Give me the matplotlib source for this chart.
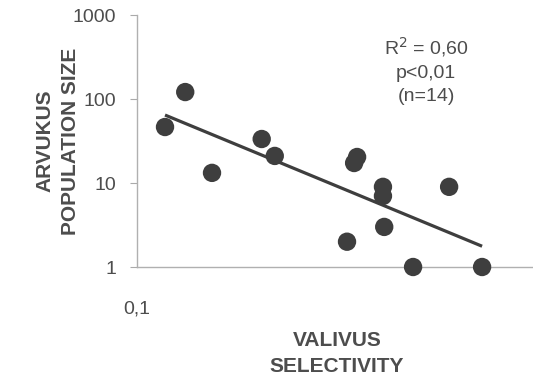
import numpy as np
import matplotlib
matplotlib.use("Agg")
import matplotlib.pyplot as plt
from matplotlib.ticker import FixedLocator, NullLocator

plt.rcParams["font.family"] = ["Liberation Sans", "DejaVu Sans"]

# values
selectivity = [0.1175, 0.132, 0.154, 0.205, 0.221, 0.355, 0.349,
               0.412, 0.412, 0.603, 0.415, 0.335, 0.490, 0.729]
population = [46.4, 121, 13.2, 33.4, 21.0, 20.4, 17.3,
              9.0, 7.0, 9.0, 3.0, 2.0, 1.0, 1.0]
y_ticks = [1, 10, 100, 1000]
y_ticklabels = ["1", "10", "100", "1000"]
x_ticks = [0.1]
x_ticklabels = ["0,1"]
stats_text = "R$^2$ = 0,60\np<0,01\n(n=14)"

TXT = "#4d4d4d"
DARK = "#3e3e3e"

fig = plt.figure(figsize=(5.33, 3.77), dpi=100)
ax = fig.add_axes([137 / 533, 1 - 267 / 377, 1 - 137 / 533, (267 - 15) / 377])
ax.set_xscale("log")
ax.set_yscale("log")

# log-log regression line over the data range
lx = np.log10(selectivity)
ly = np.log10(population)
slope, icpt = np.polyfit(lx, ly, 1)
xx = np.array([min(selectivity), max(selectivity)])
ax.plot(xx, 10 ** (icpt + slope * np.log10(xx)), color=DARK, lw=2.3,
        solid_capstyle="butt", zorder=2)

ax.scatter(selectivity, population, s=175, color=DARK, edgecolors="none",
           zorder=3, clip_on=False)

ax.set_xlim(0.1, 10 ** ((533 - 137) / 400 - 1))
ax.set_ylim(1, 1000)

ax.yaxis.set_major_locator(FixedLocator(y_ticks))
ax.set_yticklabels(y_ticklabels)
ax.yaxis.set_minor_locator(NullLocator())
ax.xaxis.set_major_locator(FixedLocator(x_ticks))
ax.set_xticklabels(x_ticklabels)
ax.xaxis.set_minor_locator(NullLocator())

ax.tick_params(axis="y", length=5, width=0.8, color="#aaaaaa", labelsize=14,
               labelcolor=TXT, pad=10)
ax.tick_params(axis="x", length=0, labelsize=14, labelcolor=TXT, pad=24)

for side in ["top", "right"]:
    ax.spines[side].set_visible(False)
for side in ["left", "bottom"]:
    ax.spines[side].set_color("#b0b0b0")
    ax.spines[side].set_linewidth(1.0)

fig.text(45 / 533, 1 - 141 / 377, "ARVUKUS", rotation=90, ha="center",
         va="center", fontsize=15, fontweight="bold", color=TXT)
fig.text(71 / 533, 1 - 141 / 377, "POPULATION SIZE", rotation=90,
         ha="center", va="center", fontsize=15, fontweight="bold", color=TXT)
fig.text(337 / 533, 1 - 340 / 377, "VALIVUS", ha="center", va="center",
         fontsize=15, fontweight="bold", color=TXT)
fig.text(337 / 533, 1 - 367 / 377, "SELECTIVITY", ha="center", va="center",
         fontsize=15, fontweight="bold", color=TXT)

fig.text(426 / 533, 1 - 70 / 377, stats_text, ha="center", va="center",
         fontsize=14, color=TXT, linespacing=1.45)

fig.savefig("out.png", dpi=100, facecolor="white")
